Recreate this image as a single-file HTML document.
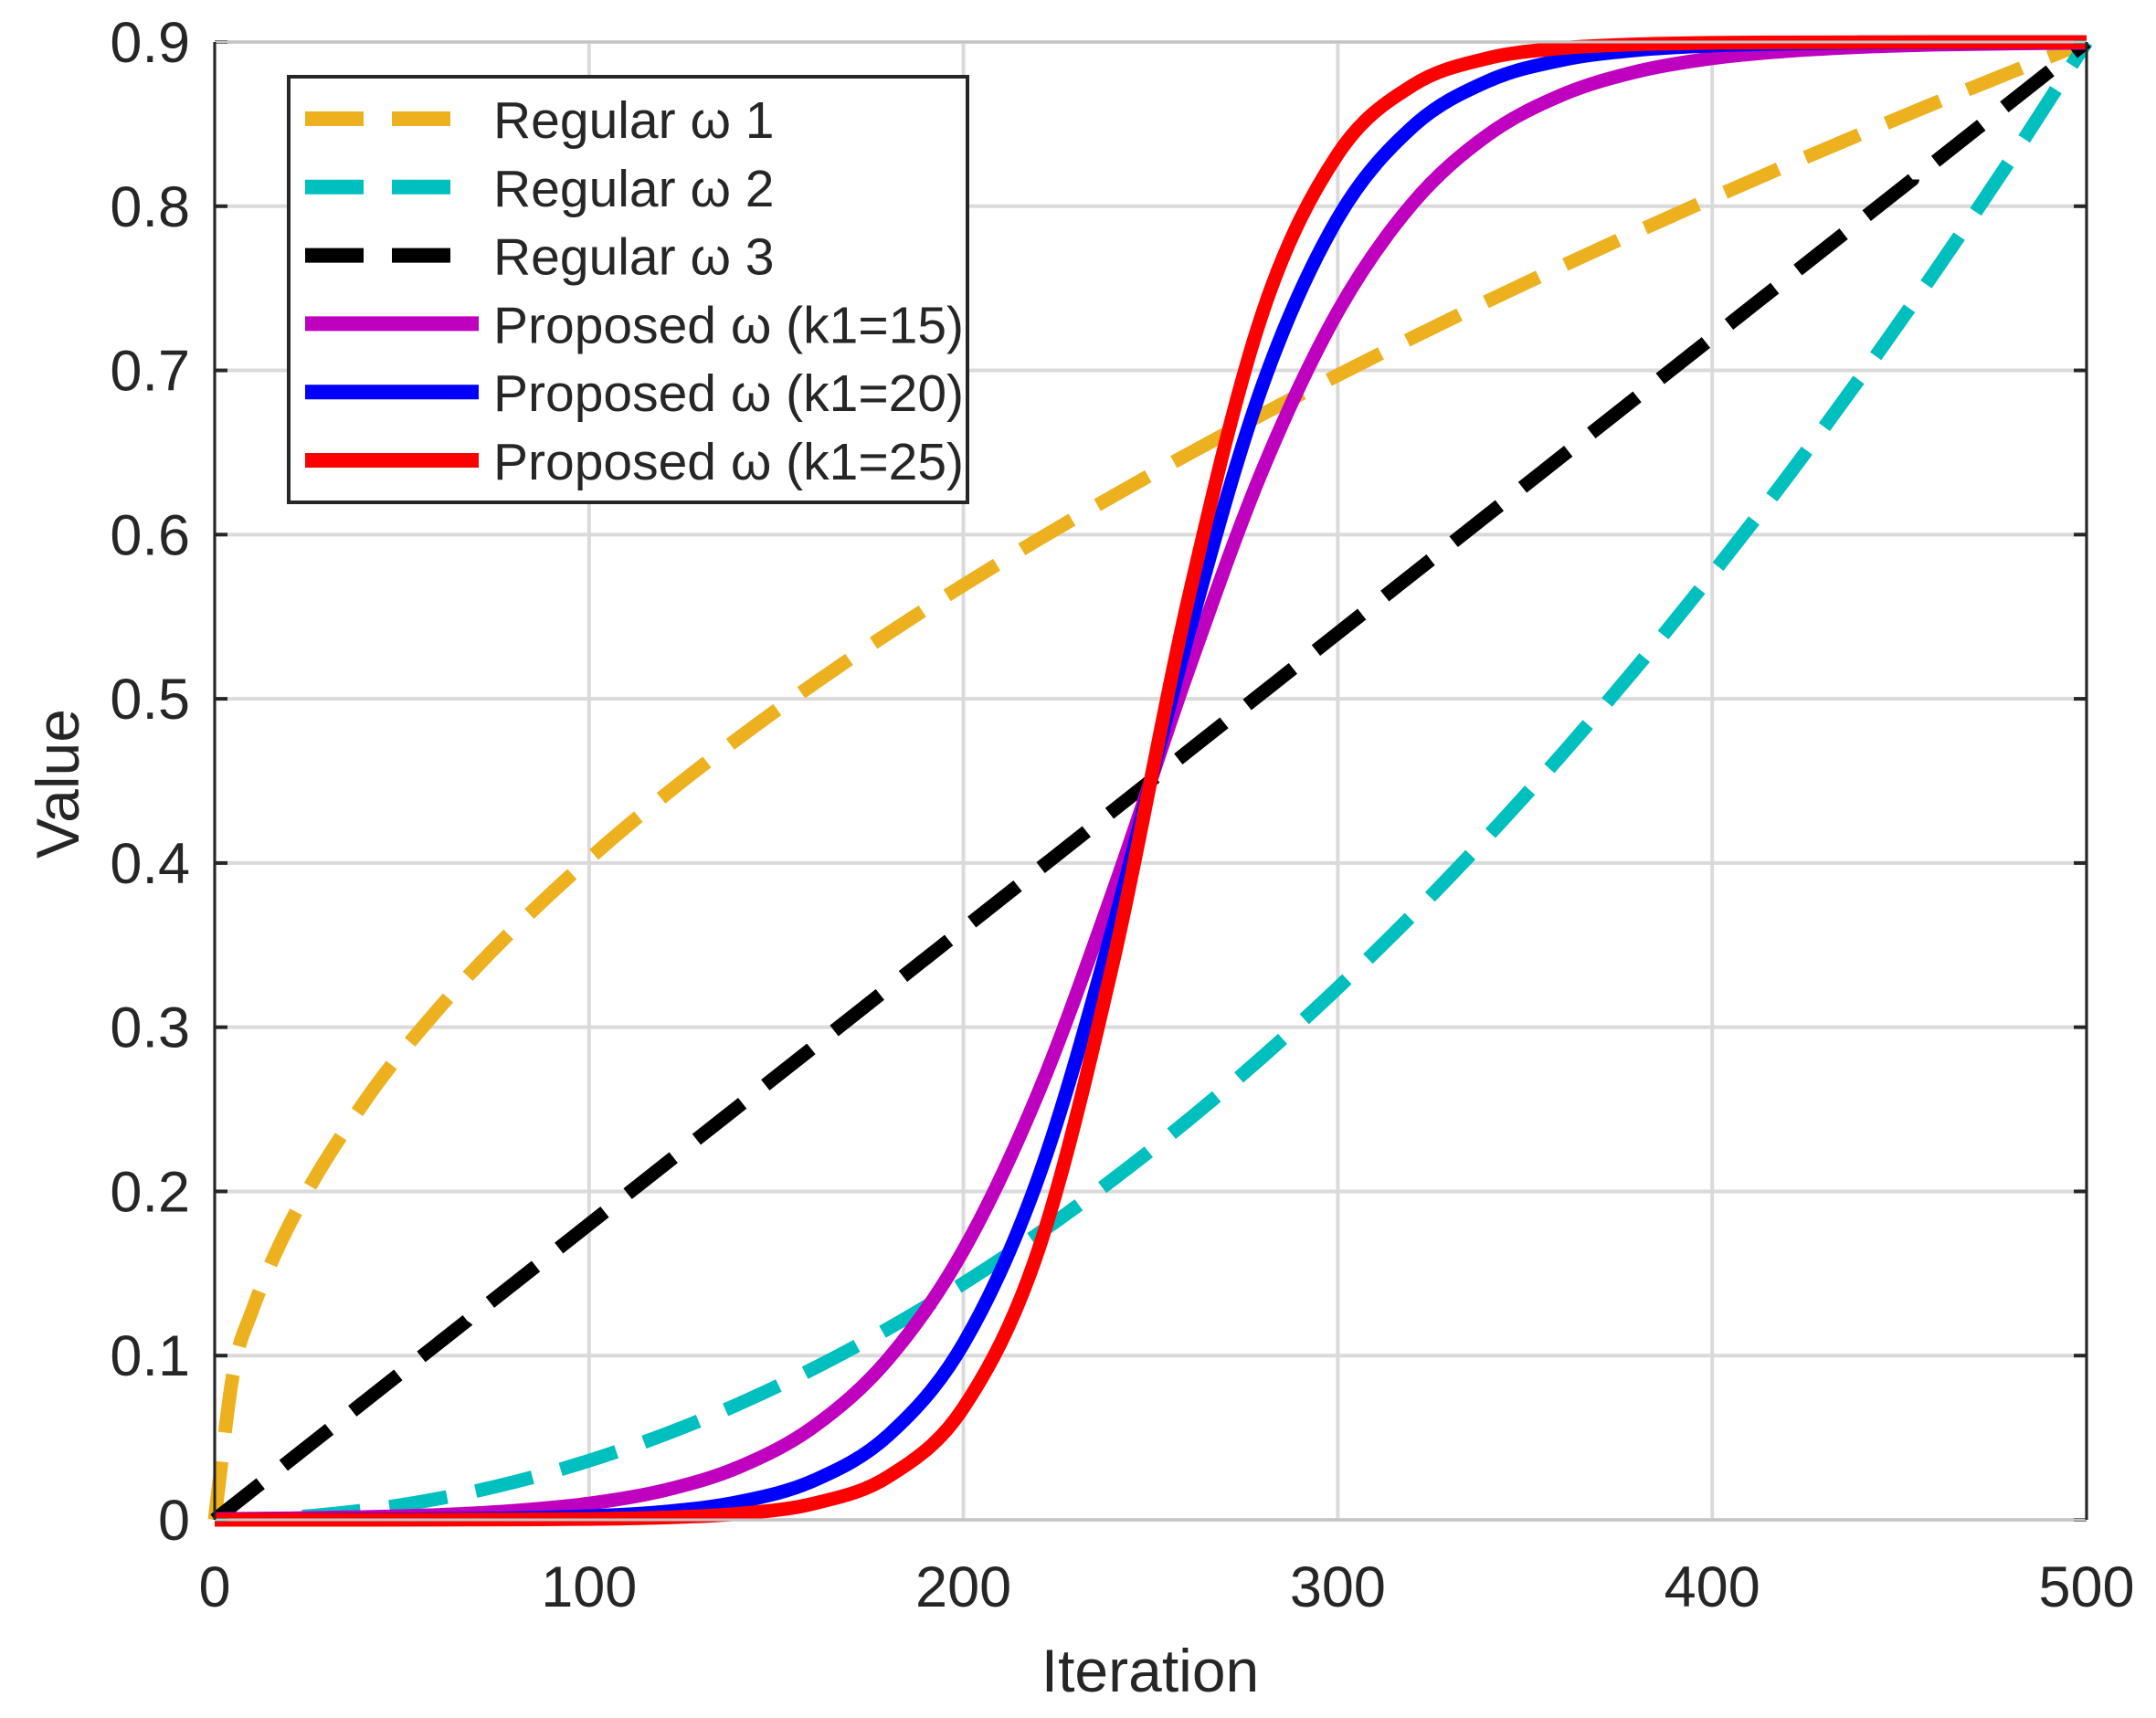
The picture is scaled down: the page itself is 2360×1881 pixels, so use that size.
<!DOCTYPE html>
<html><head><meta charset="utf-8"><style>
html,body{margin:0;padding:0;background:#fff;}
svg{display:block;}
text{font-family:"Liberation Sans",Arial,sans-serif;fill:#262626;}
</style></head><body>
<svg id="chart" width="2360" height="1881" viewBox="0 0 2360 1881" xmlns="http://www.w3.org/2000/svg">
<g id="grid"></g>
<g id="series"></g>
<g id="axes"></g>
<text x="1259" y="1852" font-size="66" text-anchor="middle">Iteration</text>
<text x="0" y="0" font-size="66" text-anchor="middle" transform="translate(86,858) rotate(-90)">Value</text>
<g id="legend"></g>
</svg>
<script>
const iters = [0,5,10,20,40,60,80,100,120,140,160,180,200,220,240,260,280,300,320,340,360,380,400,420,440,460,480,500];
const regular1 = [0,0.09,0.1273,0.18,0.2546,0.3118,0.36,0.4025,0.4409,0.4762,0.5091,0.54,0.5692,0.597,0.6235,0.649,0.6735,0.6971,0.72,0.7422,0.7637,0.7846,0.805,0.8249,0.8443,0.8633,0.8818,0.9];
const regular2 = [0,0.0001,0.0004,0.0014,0.0058,0.013,0.023,0.036,0.0518,0.0706,0.0922,0.1166,0.144,0.1742,0.2074,0.2434,0.2822,0.324,0.3686,0.4162,0.4666,0.5198,0.576,0.635,0.697,0.7618,0.8294,0.9];
const regular3 = [0,0.009,0.018,0.036,0.072,0.108,0.144,0.18,0.216,0.252,0.288,0.324,0.36,0.396,0.432,0.468,0.504,0.54,0.576,0.612,0.648,0.684,0.72,0.756,0.792,0.828,0.864,0.9];
const proposed15 = [0.0005,0.0006,0.0007,0.0009,0.0017,0.003,0.0055,0.0099,0.0179,0.0321,0.0567,0.0982,0.1642,0.2601,0.383,0.517,0.64,0.7358,0.8018,0.8433,0.8679,0.8821,0.8901,0.8945,0.897,0.8984,0.8991,0.8995];
const proposed20 = [0,0,0.0001,0.0001,0.0002,0.0005,0.001,0.0022,0.0049,0.0109,0.0239,0.0516,0.1073,0.2083,0.3614,0.5386,0.6917,0.7927,0.8484,0.8761,0.8891,0.8951,0.8978,0.899,0.8996,0.8998,0.8999,0.9];
const proposed25 = [0,0,0,0,0,0.0001,0.0002,0.0005,0.0014,0.0037,0.0099,0.0264,0.0683,0.1642,0.3398,0.5602,0.7358,0.8317,0.8736,0.8901,0.8963,0.8986,0.8995,0.8998,0.8999,0.9,0.9,0.9];
const xTicks = [0,100,200,300,400,500];
const yTicks = [0,0.1,0.2,0.3,0.4,0.5,0.6,0.7,0.8,0.9];
const yTickLabels = ["0","0.1","0.2","0.3","0.4","0.5","0.6","0.7","0.8","0.9"];
const legendLabels = ["Regular \u03c9 1","Regular \u03c9 2","Regular \u03c9 3","Proposed \u03c9 (k1=15)","Proposed \u03c9 (k1=20)","Proposed \u03c9 (k1=25)"];

const L=235,R=2284,T=46,B=1664;
const sx=v=>L+(v-0)/(500-0)*(R-L);
const sy=v=>B-(v-0)/(0.9-0)*(B-T);
const NS="http://www.w3.org/2000/svg";
function mk(tag,parent){const e=document.createElementNS(NS,tag);parent.appendChild(e);return e;}
const grid=document.getElementById('grid'),axes=document.getElementById('axes'),series=document.getElementById('series'),legend=document.getElementById('legend');

xTicks.forEach((t,i)=>{
  const g=mk('line',grid);
  
  
  g.setAttribute('x1',sx(t));g.setAttribute('x2',sx(t));g.setAttribute('y1',T);g.setAttribute('y2',B);
  g.setAttribute('stroke','#dadada');g.setAttribute('stroke-width','4');
  const tx=mk('text',axes);
  
  
  tx.setAttribute('x',sx(t));tx.setAttribute('y',1759);tx.setAttribute('font-size','63');tx.setAttribute('text-anchor','middle');
  tx.textContent=String(t);
});
yTicks.forEach((t,i)=>{
  const g=mk('line',grid);
  
  
  g.setAttribute('x1',L);g.setAttribute('x2',R);g.setAttribute('y1',sy(t));g.setAttribute('y2',sy(t));
  g.setAttribute('stroke','#dadada');g.setAttribute('stroke-width','4');
  [[L,L+14],[R-14,R]].forEach(p=>{
    const tk=mk('line',axes);
    
    
    tk.setAttribute('x1',p[0]);tk.setAttribute('x2',p[1]);tk.setAttribute('y1',sy(t));tk.setAttribute('y2',sy(t));
    tk.setAttribute('stroke','#262626');tk.setAttribute('stroke-width','4');
  });
  const tx=mk('text',axes);
  
  
  tx.setAttribute('x',208);tx.setAttribute('y',sy(t)+22);tx.setAttribute('font-size','63');tx.setAttribute('text-anchor','end');
  tx.textContent=yTickLabels[i];
});
[[L,T,R,T,'#c4c4c4'],[L,B,R,B,'#c4c4c4'],[L,T,L,B,'#262626'],[R,T,R,B,'#262626']].forEach(a=>{
  const ln=mk('line',axes);
  
  
  ln.setAttribute('x1',a[0]);ln.setAttribute('y1',a[1]);ln.setAttribute('x2',a[2]);ln.setAttribute('y2',a[3]);
  ln.setAttribute('stroke',a[4]);ln.setAttribute('stroke-width','3');
});

function monoPath(xs,ys){
  const n=xs.length,px=xs.map(sx),py=ys.map(sy);
  const d=[],m=[];
  for(let i=0;i<n-1;i++)d.push((py[i+1]-py[i])/(px[i+1]-px[i]));
  m[0]=d[0];m[n-1]=d[n-2];
  for(let i=1;i<n-1;i++){m[i]=(d[i-1]*d[i]<=0)?0:(d[i-1]+d[i])/2;}
  for(let i=0;i<n-1;i++){
    if(d[i]===0){m[i]=0;m[i+1]=0;continue;}
    const a=m[i]/d[i],b=m[i+1]/d[i],s=a*a+b*b;
    if(s>9){const t=3/Math.sqrt(s);m[i]=t*a*d[i];m[i+1]=t*b*d[i];}
  }
  let p='M'+px[0]+','+py[0];
  for(let i=0;i<n-1;i++){
    const h=(px[i+1]-px[i])/3;
    p+=' C'+(px[i]+h)+','+(py[i]+m[i]*h)+' '+(px[i+1]-h)+','+(py[i+1]-m[i+1]*h)+' '+px[i+1]+','+py[i+1];
  }
  return p;
}
const defs=[
  [regular1,'#EDB120',true,'series-regular-omega-1'],
  [regular2,'#00BFBF',true,'series-regular-omega-2'],
  [regular3,'#000000',true,'series-regular-omega-3'],
  [proposed15,'#BF00BF',false,'series-proposed-k1-15'],
  [proposed20,'#0000FF',false,'series-proposed-k1-20'],
  [proposed25,'#FF0000',false,'series-proposed-k1-25']
];
defs.forEach(s=>{
  const p=mk('path',series);
  
  
  p.setAttribute('d',monoPath(iters,s[0]));
  p.setAttribute('fill','none');p.setAttribute('stroke',s[1]);p.setAttribute('stroke-width','15');
  if(s[2])p.setAttribute('stroke-dasharray','64 32');
});

const lb=mk('rect',legend);


lb.setAttribute('x',316);lb.setAttribute('y',84);lb.setAttribute('width',743);lb.setAttribute('height',466);
lb.setAttribute('fill','#fff');lb.setAttribute('stroke','#262626');lb.setAttribute('stroke-width','4');
defs.forEach((s,i)=>{
  const y=130+i*74.8;
  const ln=mk('line',legend);
  
  
  ln.setAttribute('x1',334);ln.setAttribute('x2',s[2]?493:524);ln.setAttribute('y1',y);ln.setAttribute('y2',y);
  ln.setAttribute('stroke',s[1]);ln.setAttribute('stroke-width','16');
  if(s[2])ln.setAttribute('stroke-dasharray','64 31');
  const tx=mk('text',legend);
  
  
  tx.setAttribute('x',540);tx.setAttribute('y',y+21);tx.setAttribute('font-size','57');tx.setAttribute('fill','#000');
  tx.textContent=legendLabels[i];
});
</script>
</body></html>
